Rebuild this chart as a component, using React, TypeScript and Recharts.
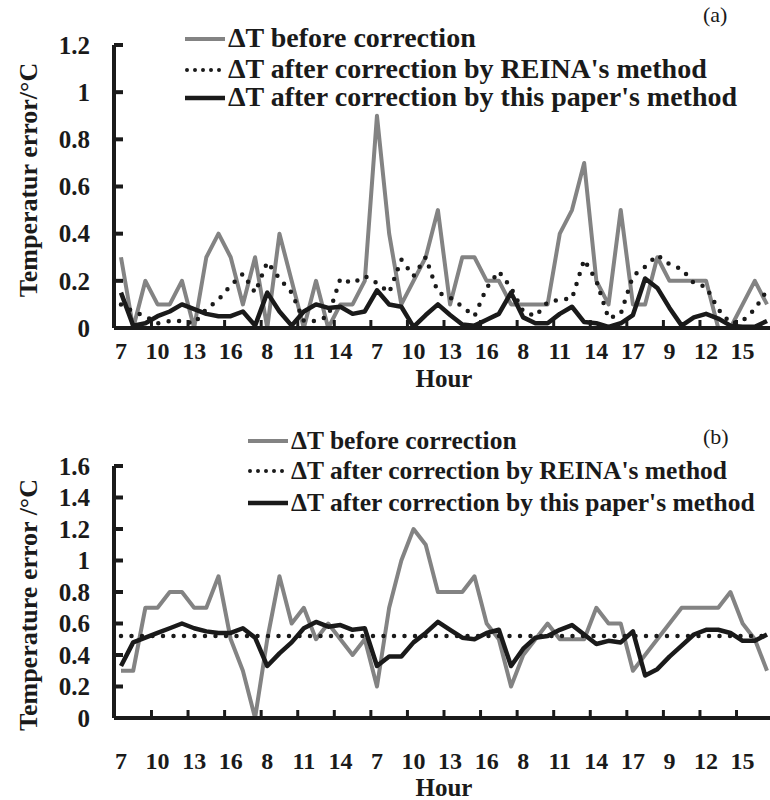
import { LineChart, Line, XAxis, YAxis, Legend } from 'recharts';

// hour of day for every sample (five days of readings)
const HOURS = [
  7, 8, 9, 10, 11, 12, 13, 14, 15, 16, 17,
  7, 8, 9, 10, 11, 12, 13, 14, 15, 16,
  7, 8, 9, 10, 11, 12, 13, 14, 15, 16, 17,
  7, 8, 9, 10, 11, 12, 13, 14, 15, 16, 17,
  7, 8, 9, 10, 11, 12, 13, 14, 15, 16, 17,
];

// panel (a)
const BEFORE_A = [
  0.3, 0, 0.2, 0.1, 0.1, 0.2, 0, 0.3, 0.4, 0.3,
  0.1, 0.3, 0, 0.4, 0.2, 0, 0.2, 0, 0.1, 0.1,
  0.2, 0.9, 0.4, 0.1, 0.2, 0.3, 0.5, 0.1, 0.3, 0.3,
  0.2, 0.2, 0.1, 0.1, 0.1, 0.1, 0.4, 0.5, 0.7, 0.2,
  0.1, 0.5, 0.1, 0.1, 0.3, 0.2, 0.2, 0.2, 0.2, 0,
  0, 0.1, 0.2, 0.1,
];
const REINA_A = [
  0.1, 0.07, 0.05, 0.02, 0.03, 0.03, 0.02, 0.08, 0.12, 0.18,
  0.23, 0.15, 0.28, 0.21, 0.15, 0.03, 0.03, 0.05, 0.21, 0.19,
  0.22, 0.19, 0.15, 0.29, 0.22, 0.3, 0.15, 0.13, 0.09, 0.05,
  0.17, 0.24, 0.17, 0.07, 0.05, 0.11, 0.12, 0.125, 0.29, 0.2,
  0.04, 0.06, 0.22, 0.26, 0.31, 0.27, 0.25, 0.19, 0.175, 0.08,
  0.02, 0.03, 0.08, 0.16,
];
const PAPER_A = [
  0.15, 0.01, 0.02, 0.05, 0.07, 0.1, 0.08, 0.06, 0.05, 0.05,
  0.07, 0.01, 0.15, 0.07, 0.01, 0.07, 0.1, 0.085, 0.09, 0.06,
  0.07, 0.16, 0.1, 0.09, 0.005, 0.055, 0.1, 0.055, 0.015, 0.01,
  0.035, 0.06, 0.15, 0.045, 0.02, 0.02, 0.06, 0.09, 0.025, 0.02,
  0.005, 0.02, 0.055, 0.21, 0.17, 0.085, 0.01, 0.045, 0.06, 0.04,
  0.01, 0.005, 0.005, 0.03,
];

// panel (b)
const BEFORE_B = [
  0.3, 0.3, 0.7, 0.7, 0.8, 0.8, 0.7, 0.7, 0.9, 0.5,
  0.3, 0, 0.5, 0.9, 0.6, 0.7, 0.5, 0.6, 0.5, 0.4,
  0.5, 0.2, 0.7, 1.0, 1.2, 1.1, 0.8, 0.8, 0.8, 0.9,
  0.6, 0.5, 0.2, 0.4, 0.5, 0.6, 0.5, 0.5, 0.5, 0.7,
  0.6, 0.6, 0.3, 0.4, 0.5, 0.6, 0.7, 0.7, 0.7, 0.7,
  0.8, 0.6, 0.5, 0.3,
];
const REINA_B = [
  0.52, 0.52, 0.52, 0.52, 0.52, 0.52, 0.52, 0.52, 0.52, 0.52,
  0.52, 0.52, 0.52, 0.52, 0.52, 0.52, 0.52, 0.52, 0.52, 0.52,
  0.52, 0.52, 0.52, 0.52, 0.52, 0.52, 0.52, 0.52, 0.52, 0.52,
  0.52, 0.52, 0.52, 0.52, 0.52, 0.52, 0.52, 0.52, 0.52, 0.52,
  0.52, 0.52, 0.52, 0.52, 0.52, 0.52, 0.52, 0.52, 0.52, 0.52,
  0.52, 0.52, 0.52, 0.52,
];
const PAPER_B = [
  0.33, 0.48, 0.51, 0.54, 0.57, 0.6, 0.57, 0.55, 0.54, 0.54,
  0.57, 0.51, 0.33, 0.41, 0.48, 0.57, 0.61, 0.58, 0.59, 0.56,
  0.57, 0.33, 0.39, 0.39, 0.48, 0.54, 0.61, 0.56, 0.51, 0.5,
  0.54, 0.56, 0.33, 0.44, 0.51, 0.52, 0.56, 0.59, 0.53, 0.47,
  0.49, 0.48, 0.55, 0.27, 0.31, 0.39, 0.46, 0.53, 0.56, 0.56,
  0.54, 0.49, 0.49, 0.53,
];

const TICKS_A = [0, 0.2, 0.4, 0.6, 0.8, 1, 1.2];
const TICKS_B = [0, 0.2, 0.4, 0.6, 0.8, 1, 1.2, 1.4, 1.6];

const NAMES = [
  'ΔT before correction',
  "ΔT after correction by REINA's method",
  "ΔT after correction by this paper's method",
];

const FONT = '"Liberation Serif", "Times New Roman", Times, serif';
const INK = '#1a1a1a';
const GRAY = '#838383';
const W = 770;
const AXIS_W = 114;
const PAD_L = 7;
const PAD_R = 3;
const STEP = (W - AXIS_W - PAD_L - PAD_R) / (HOURS.length - 1);

const makeXTick = (dy: number) => (props: any) => {
  const { x, y, payload } = props;
  const mx = x + 2.5 * STEP;
  return (
    <g>
      <line x1={mx} x2={mx} y1={y} y2={y - 8} stroke={INK} strokeWidth={3} />
      <text x={x} y={y + dy} textAnchor="middle" fontFamily={FONT} fontWeight="bold" fontSize={24} fill={INK}>
        {payload.value}
      </text>
    </g>
  );
};

const YTick = (props: any) => {
  const { x, y, payload } = props;
  return (
    <g>
      <line x1={x} x2={x + 9} y1={y} y2={y} stroke={INK} strokeWidth={4} />
      <text x={x - 24} y={y} dy="0.35em" textAnchor="end" fontFamily={FONT} fontWeight="bold" fontSize={25} fill={INK}>
        {String(payload.value)}
      </text>
    </g>
  );
};

function LegendBox({ left, rows, fontSize, tag, tagTop }: any) {
  const samples = [
    <line x1={0} x2={40} y1={6} y2={6} stroke={GRAY} strokeWidth={4} />,
    <line x1={2} x2={40} y1={6} y2={6} stroke={INK} strokeWidth={4} strokeDasharray="0 8" strokeLinecap="round" />,
    <line x1={0} x2={40} y1={6} y2={6} stroke={INK} strokeWidth={4.5} />,
  ];
  return (
    <div style={{ position: 'relative', width: W, height: 120, fontFamily: FONT, color: INK }}>
      {NAMES.map((name, i) => (
        <div
          key={name}
          style={{
            position: 'absolute',
            left,
            top: rows[i] - 14,
            height: 28,
            lineHeight: '28px',
            whiteSpace: 'nowrap',
            fontWeight: 'bold',
            fontSize,
          }}
        >
          <svg width={43} height={12} style={{ verticalAlign: 'middle', marginTop: -4 }}>
            {samples[i]}
          </svg>
          {name}
        </div>
      ))}
      <div style={{ position: 'absolute', left: 703, top: tagTop - 13, fontSize: 22, lineHeight: '26px' }}>{tag}</div>
    </div>
  );
}

function Panel({ before, reina, paper, ticks, cfg }: any) {
  const data = HOURS.map((h, i) => ({ hour: h, before: before[i], reina: reina[i], paper: paper[i] }));
  return (
    <LineChart
      width={W}
      height={cfg.height}
      data={data}
      margin={{ top: cfg.marginTop, right: 0, bottom: 0, left: 0 }}
    >
      <XAxis
        dataKey="hour"
        interval={2}
        height={cfg.xHeight}
        padding={{ left: PAD_L, right: PAD_R }}
        axisLine={{ stroke: INK, strokeWidth: 4 }}
        tickLine={false}
        tickSize={0}
        tickMargin={0}
        tick={makeXTick(cfg.tickDy)}
        label={() => (
          <text x={(AXIS_W + W) / 2 + 2} y={cfg.height - cfg.hourOffset} textAnchor="middle" fontFamily={FONT} fontWeight="bold" fontSize={25} fill={INK}>
            Hour
          </text>
        )}
      />
      <YAxis
        width={AXIS_W}
        domain={[0, ticks[ticks.length - 1]]}
        ticks={ticks}
        axisLine={{ stroke: INK, strokeWidth: 4 }}
        tickLine={false}
        tickSize={0}
        tickMargin={0}
        tick={YTick}
        label={() => (
          <text
            x={28}
            y={cfg.yTitleCenter}
            transform={`rotate(-90 28 ${cfg.yTitleCenter})`}
            textAnchor="middle"
            dominantBaseline="central"
            fontFamily={FONT}
            fontWeight="bold"
            fontSize={26}
            fill={INK}
          >
            {cfg.yTitle}
          </text>
        )}
      />
      <Legend
        layout="horizontal"
        verticalAlign="middle"
        align="center"
        wrapperStyle={{ position: 'absolute', left: 0, top: 0, width: W, height: 120 }}
        content={() => (
          <LegendBox left={cfg.legendLeft} rows={cfg.legendRows} fontSize={cfg.legendFont} tag={cfg.tag} tagTop={cfg.tagTop} />
        )}
      />
      <Line type="linear" dataKey="before" stroke={GRAY} strokeWidth={4} dot={false} isAnimationActive={false} strokeLinejoin="round" />
      <Line
        type="linear"
        dataKey="reina"
        stroke={INK}
        strokeWidth={4.5}
        strokeDasharray="0 10.5"
        strokeLinecap="round"
        dot={false}
        isAnimationActive={false}
      />
      <Line type="linear" dataKey="paper" stroke={INK} strokeWidth={4.5} dot={false} isAnimationActive={false} strokeLinejoin="round" />
    </LineChart>
  );
}

const CFG_A = {
  height: 392,
  marginTop: 45,
  xHeight: 64,
  tickDy: 31,
  hourOffset: 5,
  yTitle: 'Temperatur error/°C',
  yTitleCenter: 180,
  legendLeft: 185,
  legendRows: [38, 69, 97],
  legendFont: 28,
  tag: '(a)',
  tagTop: 15,
};

const CFG_B = {
  height: 400,
  marginTop: 66,
  xHeight: 82,
  tickDy: 51,
  hourOffset: 4,
  yTitle: 'Temperature error /°C',
  yTitleCenter: 205,
  legendLeft: 248,
  legendRows: [41, 71, 103],
  legendFont: 25.5,
  tag: '(b)',
  tagTop: 37,
};

export default function App() {
  return (
    <div style={{ position: 'absolute', left: 0, top: 0, width: W, height: 800, overflow: 'hidden', background: '#fff' }}>
      <div style={{ position: 'absolute', left: 0, top: 0 }}>
        <Panel before={BEFORE_A} reina={REINA_A} paper={PAPER_A} ticks={TICKS_A} cfg={CFG_A} />
      </div>
      <div style={{ position: 'absolute', left: 0, top: 400 }}>
        <Panel before={BEFORE_B} reina={REINA_B} paper={PAPER_B} ticks={TICKS_B} cfg={CFG_B} />
      </div>
    </div>
  );
}
